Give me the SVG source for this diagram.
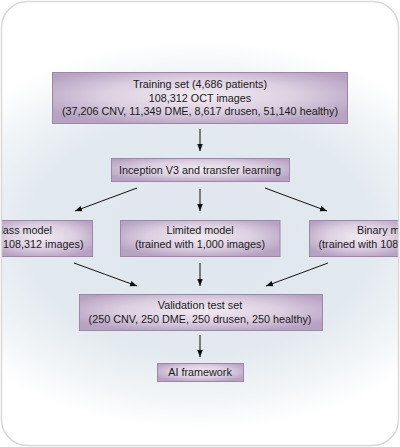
<svg xmlns="http://www.w3.org/2000/svg" width="400" height="447" viewBox="0 0 400 447">
<defs>
<radialGradient id="bg" cx="200" cy="235" r="230" gradientUnits="userSpaceOnUse" gradientTransform="translate(200 235) scale(1.25 0.85) translate(-200 -235)">
<stop offset="0" stop-color="#dfe7ee"/>
<stop offset="0.6" stop-color="#e2e9ef"/>
<stop offset="0.85" stop-color="#f3f6f8"/>
<stop offset="1" stop-color="#ffffff"/>
</radialGradient>
<radialGradient id="box" cx="0.5" cy="0.45" r="0.6">
<stop offset="0" stop-color="#f1eaf2"/>
<stop offset="0.55" stop-color="#dccfe1"/>
<stop offset="1" stop-color="#b7a2c2"/>
</radialGradient>
<marker id="ah" viewBox="0 0 8 8" refX="8" refY="4" markerWidth="7" markerHeight="7" markerUnits="userSpaceOnUse" orient="auto">
<path d="M0,0.8 L8,4 L0,7.2 Z" fill="#111"/>
</marker>
<clipPath id="frame"><rect x="1.5" y="1.5" width="397" height="444" rx="26" ry="26"/></clipPath>
<style>
.b{fill:url(#box);stroke:#9a88a6;stroke-width:1}
.t{font-family:"Liberation Sans",Arial,sans-serif;font-size:10.8px;fill:#1a1a1a;text-anchor:middle}
.c line{stroke:#111;stroke-width:1;marker-end:url(#ah)}
</style>
</defs>
<rect x="1.5" y="1.5" width="397" height="444" rx="26" ry="26" fill="url(#bg)"/>
<g clip-path="url(#frame)">
<g id="training">
<rect class="b" x="52.5" y="72.5" width="295" height="51"/>
<text class="t" x="200" y="88">Training set (4,686 patients)</text>
<text class="t" x="200" y="101.5">108,312 OCT images</text>
<text class="t" x="200" y="115">(37,206 CNV, 11,349 DME, 8,617 drusen, 51,140 healthy)</text>
</g>
<g id="inception">
<rect class="b" x="111.5" y="158.5" width="178" height="23"/>
<text class="t" x="200" y="173.5">Inception V3 and transfer learning</text>
</g>
<g id="multiclass">
<rect class="b" x="-10" y="220.5" width="102.5" height="36"/>
<text class="t" x="52" y="234" style="text-anchor:end">lass model</text>
<text class="t" x="83.5" y="247.5" style="text-anchor:end">108,312 images)</text>
</g>
<g id="limited">
<rect class="b" x="120.5" y="220.5" width="159.5" height="36"/>
<text class="t" x="200" y="234">Limited model</text>
<text class="t" x="200" y="247.5">(trained with 1,000 images)</text>
</g>
<g id="binary">
<rect class="b" x="309.5" y="220.5" width="100" height="36"/>
<text class="t" x="357" y="234" style="text-anchor:start">Binary m</text>
<text class="t" x="318.5" y="247.5" style="text-anchor:start">(trained with 108</text>
</g>
<g id="validation">
<rect class="b" x="79.5" y="294.5" width="243" height="36"/>
<text class="t" x="200" y="308.5">Validation test set</text>
<text class="t" x="200" y="322.5">(250 CNV, 250 DME, 250 drusen, 250 healthy)</text>
</g>
<g id="ai">
<rect class="b" x="157.5" y="363.5" width="86" height="18"/>
<text class="t" x="200" y="376">AI framework</text>
</g>
</g>
<g id="connectors" class="c">
<line x1="200" y1="129" x2="200" y2="151"/>
<line x1="137" y1="188" x2="75" y2="211"/>
<line x1="200" y1="189" x2="200" y2="211"/>
<line x1="265" y1="188" x2="327" y2="211"/>
<line x1="74" y1="263" x2="137" y2="286"/>
<line x1="200" y1="263" x2="200" y2="286"/>
<line x1="328" y1="263" x2="266" y2="286"/>
<line x1="200" y1="335" x2="200" y2="357"/>
</g>
<rect x="1.5" y="1.5" width="397" height="444" rx="26" ry="26" fill="none" stroke="#d9d9d9" stroke-width="1.5"/>
</svg>
